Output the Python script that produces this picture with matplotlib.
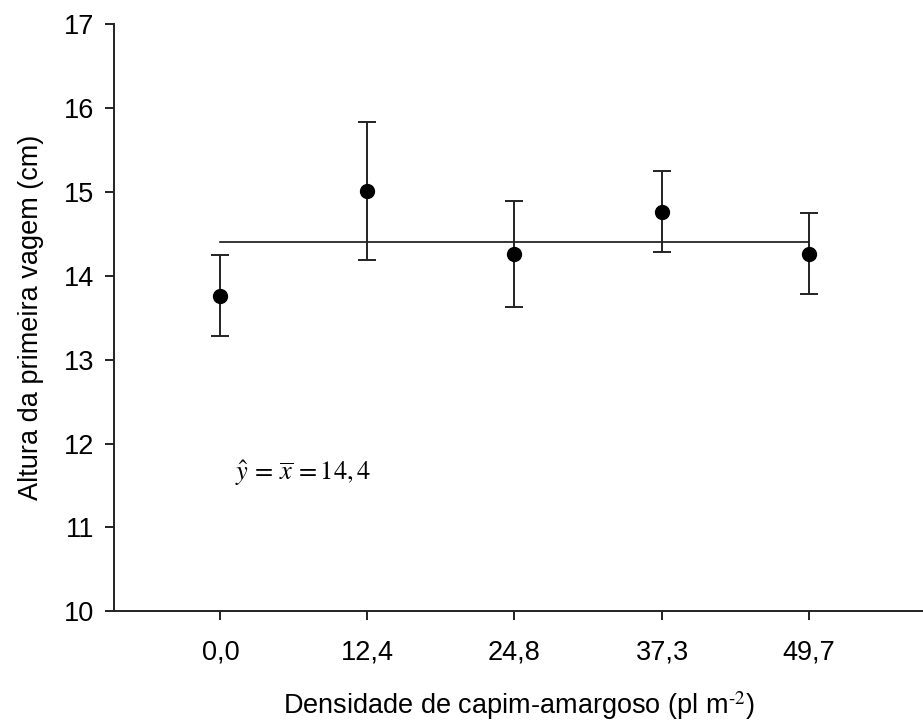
import matplotlib
matplotlib.use("Agg")
import matplotlib.pyplot as plt

# Densidade de capim-amargoso (pl m-2) e altura da primeira vagem (cm)
densidade = [0.0, 12.4, 24.8, 37.3, 49.7]
altura = [13.76, 15.01, 14.26, 14.76, 14.26]
erro = [0.48, 0.82, 0.63, 0.48, 0.48]
media = 14.4
rotulos_x = ["0,0", "12,4", "24,8", "37,3", "49,7"]
ticks_y = [10, 11, 12, 13, 14, 15, 16, 17]

plt.rcParams['font.family'] = ['Liberation Sans', 'DejaVu Sans']
plt.rcParams['mathtext.fontset'] = 'stix'

fig = plt.figure(figsize=(9.23, 7.25), dpi=100)
ax = fig.add_axes([0.1238, 0.1566, 0.8762, 0.8107])

# linha da media
ax.plot([densidade[0], densidade[-1]], [media, media], color='black', linewidth=1.1, zorder=2)

# pontos com barras de erro
ax.errorbar(densidade, altura, yerr=erro, fmt='o', color='black', markersize=10,
            ecolor='#222222', elinewidth=1.4, capsize=6.2, capthick=1.4, zorder=3)

ax.text(1.2, 11.65, r'$\hat{y}\,=\,\overline{x}\,=14,4$', fontsize=19, ha='left', va='center')

ax.set_xlim(-8.95, 59.3)
ax.set_ylim(10, 17)
ax.set_xticks(densidade)
ax.set_xticklabels(rotulos_x)
ax.set_yticks(ticks_y)

for s in ['top', 'right']:
    ax.spines[s].set_visible(False)
for s in ['left', 'bottom']:
    ax.spines[s].set_linewidth(1.4)
    ax.spines[s].set_color('#222222')

ax.tick_params(axis='x', direction='out', length=6.5, width=1.4, pad=14, labelsize=19.5, color='#222222')
ax.tick_params(axis='y', direction='out', length=6.5, width=1.4, pad=8, labelsize=19.5, color='#222222')

ax.set_xlabel(r'Densidade de capim-amargoso (pl m$^{\text{-2}}$)', fontsize=19.5, labelpad=17)
ax.set_ylabel('Altura da primeira vagem (cm)', fontsize=19.5, labelpad=14)

fig.savefig('out.png', dpi=100)
